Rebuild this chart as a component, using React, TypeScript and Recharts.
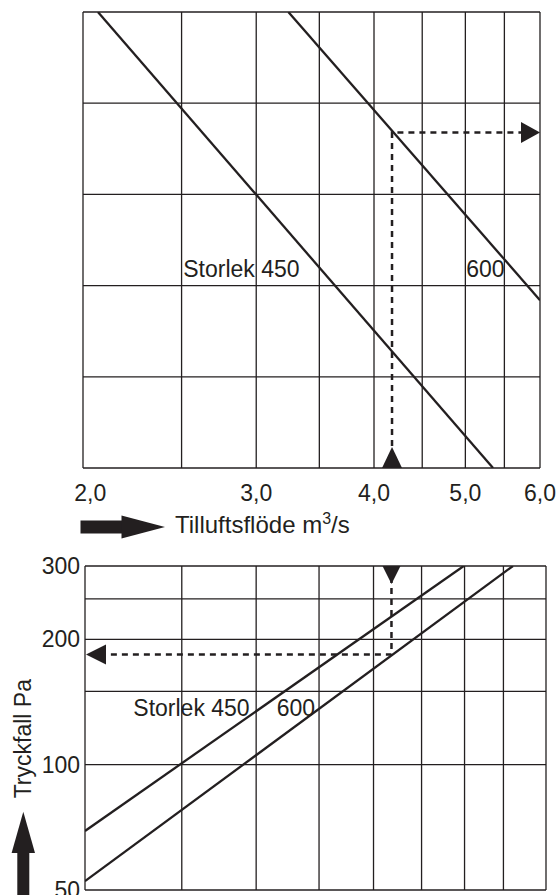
import React from 'react';
import { ComposedChart, Line, Scatter, XAxis, YAxis, CartesianGrid } from 'recharts';

const FONT = '"Liberation Sans", Arial, Helvetica, sans-serif';
const INK = '#231f20';

// ---- Top panel: supply air flow (m3/s, log scale) ----
const flowTickLabels = [2, 3, 4, 5, 6];
const topGridX = [1.965, 2.5, 3, 3.5, 4, 4.5, 5, 5.5, 6];
const topGridY = [0, 1, 2, 3, 4, 5];
const topSize450 = [{ x: 2.038, y: 5 }, { x: 5.35, y: 0 }];
const topSize600 = [{ x: 3.245, y: 5 }, { x: 6.0, y: 1.84 }];
const topReadout = [{ x: 4.18, y: 0 }, { x: 4.18, y: 3.68 }, { x: 6.0, y: 3.68 }];
const topArrows = [{ x: 4.18, y: 0, dir: 'up' }, { x: 6.0, y: 3.68, dir: 'right' }];
const topLabels = [{ x: 2.51, y: 2.09, text: 'Storlek 450' }, { x: 5.01, y: 2.09, text: '600' }];

// ---- Bottom panel: pressure drop (Pa, log scale) ----
const bottomGridX = [1.972, 2.5, 3, 3.5, 4, 4.5, 5, 5.5, 6.105];
const pressureTickLabels = [50, 100, 200, 300];
const pressureGrid = [50, 100, 150, 200, 250, 300];
const bottomSize450 = [{ x: 1.972, y: 69.3 }, { x: 4.99, y: 300 }];
const bottomSize600 = [{ x: 1.972, y: 52.5 }, { x: 5.63, y: 300 }];
const bottomReadout = [{ x: 4.18, y: 300 }, { x: 4.18, y: 184 }, { x: 1.972, y: 184 }];
const bottomArrows = [{ x: 4.18, y: 300, dir: 'down' }, { x: 1.972, y: 184, dir: 'left' }];
const bottomLabels = [{ x: 2.22, y: 131, text: 'Storlek 450' }, { x: 3.155, y: 131, text: '600' }];

const fmt = (v: number) => v.toFixed(1).replace('.', ',');

const ArrowHead = (p: any) => {
  const { cx, cy, payload } = p;
  let pts = '';
  if (payload.dir === 'up') pts = `${cx - 10},${cy} ${cx + 10},${cy} ${cx},${cy - 21}`;
  if (payload.dir === 'right') pts = `${cx},${cy} ${cx - 19},${cy - 10.5} ${cx - 19},${cy + 10.5}`;
  if (payload.dir === 'down') pts = `${cx - 9},${cy} ${cx + 9},${cy} ${cx},${cy + 18}`;
  if (payload.dir === 'left') pts = `${cx + 1},${cy} ${cx + 21},${cy - 10} ${cx + 21},${cy + 10}`;
  return <polygon points={pts} fill={INK} />;
};

const TextMark = (p: any) => (
  <text x={p.cx} y={p.cy} fontFamily={FONT} fontSize={23} fill={INK} textAnchor="start">
    {p.payload.text}
  </text>
);

const FlowTick = (p: any) => (
  <text x={p.x} y={p.y + 25} textAnchor="middle" dominantBaseline="central" fontFamily={FONT} fontSize={23} fill={INK}>
    {fmt(p.payload.value)}
  </text>
);

const FlowTitle = (p: any) => {
  const { x, y } = p.viewBox;
  const cy = y + 59;
  return (
    <g>
      <rect x={x - 2.5} y={cy - 6.5} width={42} height={13} fill={INK} />
      <polygon points={`${x + 38.5},${cy - 11.5} ${x + 82},${cy} ${x + 38.5},${cy + 11.5}`} fill={INK} />
      <text x={x + 92} y={y + 65} fontFamily={FONT} fontSize={24} fill={INK}>
        Tilluftsflöde m<tspan dy={-9} fontSize={16}>3</tspan><tspan dy={9}>/s</tspan>
      </text>
    </g>
  );
};

const PressureTitle = (p: any) => {
  const { y } = p.viewBox;
  const tx = 22.5;
  const ty = y + 172.7;
  const ax = 23.3;
  return (
    <g>
      <text transform={`translate(${tx},${ty}) rotate(-90)`} textAnchor="middle" dominantBaseline="central" fontFamily={FONT} fontSize={23} fill={INK}>
        Tryckfall Pa
      </text>
      <polygon points={`${ax},${y + 245.7} ${ax + 11.7},${y + 287} ${ax - 11.7},${y + 287}`} fill={INK} />
      <rect x={ax - 6} y={y + 286} width={12} height={45} fill={INK} />
    </g>
  );
};

export default function App() {
  return (
    <div style={{ position: 'absolute', left: 0, top: 0, width: 558, height: 895, background: '#fff' }}>
      <div style={{ position: 'absolute', left: 0, top: 0 }}>
        <ComposedChart width={558} height={545} margin={{ top: 12, right: 18, bottom: 0, left: 83 }}>
          <CartesianGrid xAxisId="grid" yAxisId="y" stroke={INK} strokeWidth={1.3} strokeOpacity={1} />
          <XAxis
            xAxisId="flow"
            dataKey="x"
            type="number"
            scale="log"
            domain={[1.965, 6]}
            allowDataOverflow
            ticks={flowTickLabels}
            tick={<FlowTick />}
            tickLine={false}
            axisLine={false}
            tickSize={0}
            tickMargin={0}
            height={77}
            interval={0}
            label={<FlowTitle />}
          />
          <XAxis xAxisId="grid" dataKey="x" type="number" scale="log" domain={[1.965, 6]} allowDataOverflow ticks={topGridX} interval={0} height={0} hide />
          <YAxis yAxisId="y" dataKey="y" type="number" domain={[0, 5]} ticks={topGridY} interval={0} allowDataOverflow width={0} hide />
          <Line xAxisId="flow" yAxisId="y" data={topSize450} dataKey="y" stroke={INK} strokeWidth={2.3} dot={false} activeDot={false} isAnimationActive={false} />
          <Line xAxisId="flow" yAxisId="y" data={topSize600} dataKey="y" stroke={INK} strokeWidth={2.3} dot={false} activeDot={false} isAnimationActive={false} />
          <Line xAxisId="flow" yAxisId="y" data={topReadout} dataKey="y" stroke={INK} strokeWidth={2.5} strokeDasharray="6 5" dot={false} activeDot={false} isAnimationActive={false} />
          <Scatter xAxisId="flow" yAxisId="y" data={topArrows} dataKey="y" shape={ArrowHead} isAnimationActive={false} />
          <Scatter xAxisId="flow" yAxisId="y" data={topLabels} dataKey="y" shape={TextMark} isAnimationActive={false} />
        </ComposedChart>
      </div>
      <div style={{ position: 'absolute', left: 0, top: 545 }}>
        <ComposedChart width={558} height={350} margin={{ top: 21, right: 12, bottom: 5, left: 0 }}>
          <CartesianGrid xAxisId="flow" yAxisId="grid" stroke={INK} strokeWidth={1.3} strokeOpacity={1} />
          <XAxis xAxisId="flow" dataKey="x" type="number" scale="log" domain={[1.972, 6.105]} allowDataOverflow ticks={bottomGridX} interval={0} height={0} hide />
          <YAxis yAxisId="grid" dataKey="y" type="number" scale="log" domain={[50, 300]} allowDataOverflow ticks={pressureGrid} interval={0} width={0} hide />
          <YAxis
            yAxisId="pa"
            dataKey="y"
            type="number"
            scale="log"
            domain={[50, 300]}
            allowDataOverflow
            ticks={pressureTickLabels}
            interval={0}
            tick={{ fontSize: 23, fill: INK, fontFamily: FONT }}
            tickLine={false}
            axisLine={false}
            tickSize={0}
            tickMargin={5}
            width={85}
            label={<PressureTitle />}
          />
          <Line xAxisId="flow" yAxisId="pa" data={bottomSize450} dataKey="y" stroke={INK} strokeWidth={2.3} dot={false} activeDot={false} isAnimationActive={false} />
          <Line xAxisId="flow" yAxisId="pa" data={bottomSize600} dataKey="y" stroke={INK} strokeWidth={2.3} dot={false} activeDot={false} isAnimationActive={false} />
          <Line xAxisId="flow" yAxisId="pa" data={bottomReadout} dataKey="y" stroke={INK} strokeWidth={2.5} strokeDasharray="6 5" dot={false} activeDot={false} isAnimationActive={false} />
          <Scatter xAxisId="flow" yAxisId="pa" data={bottomArrows} dataKey="y" shape={ArrowHead} isAnimationActive={false} />
          <Scatter xAxisId="flow" yAxisId="pa" data={bottomLabels} dataKey="y" shape={TextMark} isAnimationActive={false} />
        </ComposedChart>
      </div>
    </div>
  );
}
